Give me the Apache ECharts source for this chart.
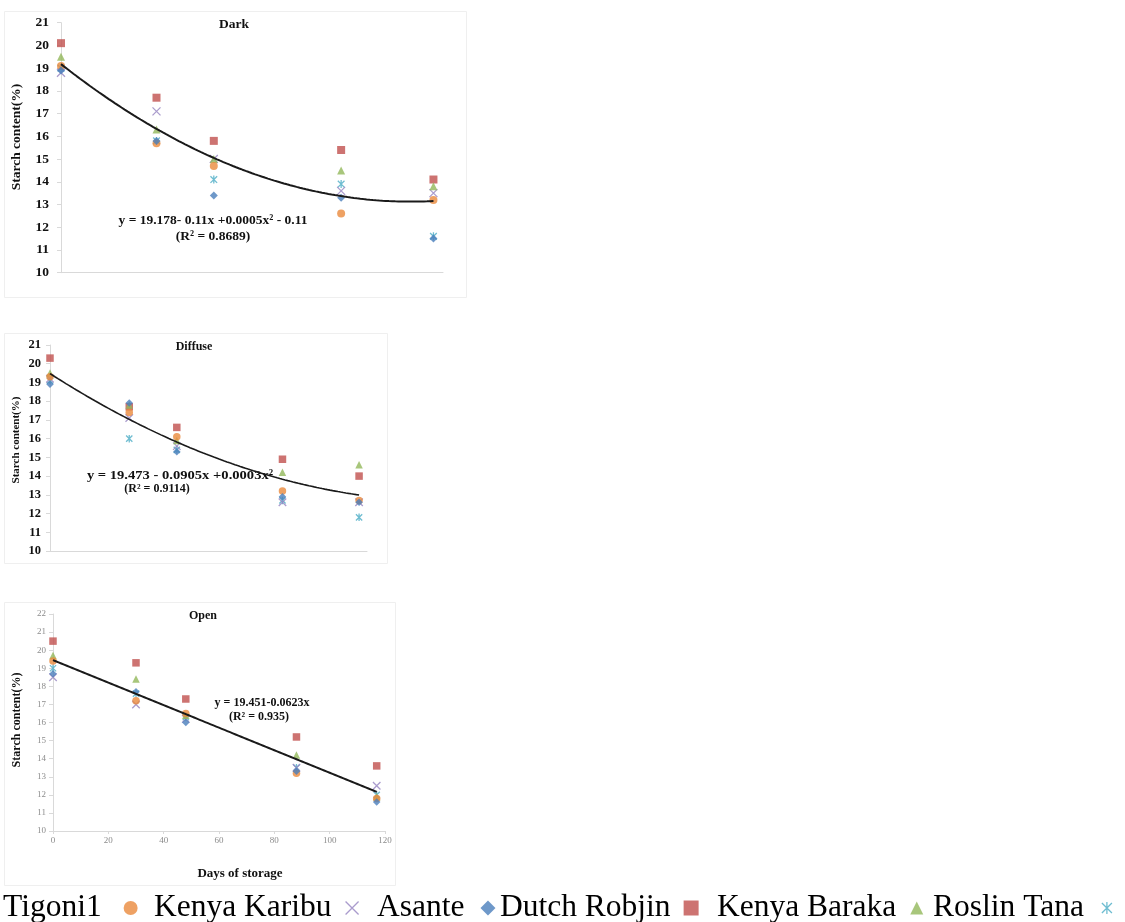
<!DOCTYPE html>
<html>
<head>
<meta charset="utf-8">
<title>Starch content during storage</title>
<script src="https://cdn.jsdelivr.net/npm/echarts@6/dist/echarts.min.js"></script>
<style>
  html, body { margin: 0; padding: 0; background: #fff; }
  #chart { width: 1125px; height: 922px; }
</style>
</head>
<body>
<div id="chart"></div>
<script>
// Storage days at which starch was measured
const days = [0, 30, 48, 88, 117];

// Potato varieties, in legend order
const varieties = ['Tigoni1', 'Kenya Karibu', 'Asante', 'Dutch Robjin', 'Kenya Baraka', 'Roslin Tana'];

// Starch content (%) per variety, one row per variety, one column per storage day
const darkValues = [
  [19.1, 15.7, 14.7, 12.6, 13.2],
  [18.8, 17.1, 15.0, 13.6, 13.5],
  [18.9, 15.8, 13.4, 13.3, 11.5],
  [20.1, 17.7, 15.8, 15.4, 14.1],
  [19.5, 16.3, 15.0, 14.5, 13.8],
  [19.0, 15.8, 14.1, 13.9, 11.6]
];
const diffuseValues = [
  [19.3, 17.4, 16.1, 13.2, 12.7],
  [19.2, 17.1, 15.6, 12.6, 12.6],
  [18.9, 17.9, 15.3, 12.9, 12.6],
  [20.3, 17.7, 16.6, 14.9, 14.0],
  [19.5, 17.8, 15.9, 14.2, 14.6],
  [19.1, 16.0, 15.4, 12.7, 11.8]
];
const openValues = [
  [19.4, 17.2, 16.5, 13.2, 11.8],
  [18.5, 17.0, 16.2, 13.5, 12.5],
  [18.7, 17.7, 16.0, 13.3, 11.6],
  [20.5, 19.3, 17.3, 15.2, 13.6],
  [19.7, 18.4, 16.4, 14.2, 11.9],
  [19.0, 17.6, 16.3, 13.5, 12.0]
];

// Fitted trend coefficients [a, b, c] for y = a + b*x + c*x^2
const darkFit = [19.178, -0.11, 0.0005];
const diffuseFit = [19.473, -0.0905, 0.0003];
const openFit = [19.451, -0.0623, 0];

// Trend equation labels
const darkEquation = ['y = 19.178- 0.11x +0.0005x\u00B2 - 0.11', '(R\u00B2 = 0.8689)'];
const diffuseEquation = ['y = 19.473 - 0.0905x +0.0003x\u00B2', '(R\u00B2 = 0.9114)'];
const openEquation = ['y = 19.451-0.0623x', '(R\u00B2 = 0.935)'];

const panelTitles = ['Dark', 'Diffuse', 'Open'];
const yAxisTitle = 'Starch content(%)';
const xAxisTitle = 'Days of storage';

// ---- styling ----
const SERIF = "'Liberation Serif', 'Times New Roman', serif";
const colors = ['#EA8A3C', '#9583C0', '#4A7EBB', '#C0504D', '#92B85A', '#4BACC6'];
const CROSS = 'path://M0,0L10,10M10,0L0,10';
const STAR = 'path://M0,0L10,10M10,0L0,10M5,-1L5,11';
const symbols = ['circle', CROSS, 'diamond', 'rect', 'triangle', STAR];
const strokeOnly = [false, true, false, false, false, true];
// Draw order inside a panel (higher on top)
const seriesZ = [5, 4, 6, 3, 4, 2];

// Legend entry placement: text start x and the space kept between name and its marker
const legendLeft = [3, 154, 377, 500, 717, 933];
const legendPad = [17, 9, 11, 8, 9, 12];
const legendIconSize = [14, 13, 15, 15, 13, 12];

const panels = [
  { values: darkValues, fit: darkFit, grid: { left: 61, top: 22.7, width: 382, height: 250 },
    yMin: 10, yMax: 21, size: 8, lineW: 2 },
  { values: diffuseValues, fit: diffuseFit, grid: { left: 50, top: 345, width: 317, height: 206 },
    yMin: 10, yMax: 21, size: 7.5, lineW: 1.6 },
  { values: openValues, fit: openFit, grid: { left: 53, top: 614, width: 332, height: 217 },
    yMin: 10, yMax: 22, size: 7.5, lineW: 2 }
];

function fitCurve(fit) {
  const pts = [];
  for (let x = days[0]; x <= days[days.length - 1]; x += 1) {
    pts.push([x, fit[0] + fit[1] * x + fit[2] * x * x]);
  }
  return pts;
}

const grids = [], xAxes = [], yAxes = [], series = [];
panels.forEach((p, pi) => {
  grids.push(Object.assign({ containLabel: false }, p.grid));
  const detailed = pi === 2;
  xAxes.push({
    type: 'value', gridIndex: pi, min: 0, max: 120, interval: 20,
    axisLine: { show: true, lineStyle: { color: '#D9D9D9', width: 1 } },
    axisTick: { show: detailed, length: 3, lineStyle: { color: '#D9D9D9' } },
    axisLabel: { show: detailed, fontFamily: SERIF, fontSize: 9, color: '#8C8C8C', margin: 5 },
    splitLine: { show: false }
  });
  yAxes.push({
    type: 'value', gridIndex: pi, min: p.yMin, max: p.yMax, interval: 1,
    axisLine: { show: true, lineStyle: { color: '#D9D9D9', width: 1 } },
    axisTick: { show: true, length: 4, lineStyle: { color: '#D9D9D9' } },
    axisLabel: detailed
      ? { fontFamily: SERIF, fontSize: 9, color: '#8C8C8C', margin: 7 }
      : { fontFamily: SERIF, fontSize: pi === 0 ? 13.5 : 12.5, fontWeight: 'bold', color: '#111', margin: pi === 0 ? 12 : 9 },
    splitLine: { show: false }
  });

  varieties.forEach((name, vi) => {
    const item = strokeOnly[vi]
      ? { color: colors[vi], borderColor: colors[vi], borderWidth: 1.3 }
      : { color: colors[vi], borderWidth: 0 };
    series.push({
      type: 'scatter', name: name, xAxisIndex: pi, yAxisIndex: pi,
      symbol: symbols[vi], symbolSize: p.size, symbolKeepAspect: true,
      itemStyle: item,
      data: days.map((d, k) => [d, p.values[vi][k]]),
      z: seriesZ[vi]
    });
  });

  series.push({
    type: 'line', name: panelTitles[pi] + ' trend', xAxisIndex: pi, yAxisIndex: pi,
    showSymbol: false, smooth: false, silent: true,
    lineStyle: { color: '#1A1A1A', width: p.lineW },
    data: fitCurve(p.fit),
    z: 7
  });
});

// One legend entry per variety: name first, marker after it
const legends = varieties.map((name, vi) => ({
  data: [name],
  left: legendLeft[vi], top: 892,
  orient: 'horizontal',
  align: 'right',
  itemWidth: legendIconSize[vi], itemHeight: legendIconSize[vi],
  selectedMode: false,
  padding: 0,
  itemStyle: strokeOnly[vi] ? { borderWidth: 1.3 } : {},
  textStyle: { fontFamily: SERIF, fontSize: 31.5, color: '#000', lineHeight: 32,
               padding: [0, legendPad[vi], 0, 0] }
}));

function label(text, x, y, size, extra) {
  return Object.assign({
    type: 'text', x: x, y: y, silent: true,
    style: { text: text, fontFamily: SERIF, fontSize: size, fontWeight: 'bold', fill: '#111',
             textAlign: 'center', textVerticalAlign: 'middle' }
  }, extra || {});
}
function yTitle(x, y, size) {
  return {
    type: 'text', x: x, y: y, rotation: Math.PI / 2, silent: true,
    style: { text: yAxisTitle, fontFamily: SERIF, fontSize: size, fontWeight: 'bold', fill: '#111',
             textAlign: 'center', textVerticalAlign: 'middle' }
  };
}
function frame(x, y, w, h) {
  return { type: 'rect', silent: true, shape: { x: x, y: y, width: w, height: h },
           style: { fill: 'none', stroke: '#EFEFEF', lineWidth: 1 }, z: -1 };
}

const graphics = [
  frame(4.5, 11.5, 462, 286),
  frame(4.5, 333.5, 383, 230),
  frame(4.5, 602.5, 391, 283),
  label(panelTitles[0], 234, 25, 13.5),
  label(panelTitles[1], 194, 347, 12),
  label(panelTitles[2], 203, 616, 12),
  yTitle(17, 137, 13.5),
  yTitle(16, 440, 11),
  yTitle(17, 720, 12),
  label(darkEquation[0], 213, 221, 13.5),
  label(darkEquation[1], 213, 237, 13.5),
  label(diffuseEquation[0], 180, 476, 13.5, { scaleX: 1.08 }),
  label(diffuseEquation[1], 157, 489, 12),
  label(openEquation[0], 262, 703, 12),
  label(openEquation[1], 259, 717, 12),
  label(xAxisTitle, 240, 874, 13)
];

const chart = echarts.init(document.getElementById('chart'), null, { renderer: 'canvas' });
chart.setOption({
  animation: false,
  backgroundColor: '#fff',
  grid: grids,
  xAxis: xAxes,
  yAxis: yAxes,
  legend: legends,
  graphic: graphics,
  series: series
});
</script>
</body>
</html>
